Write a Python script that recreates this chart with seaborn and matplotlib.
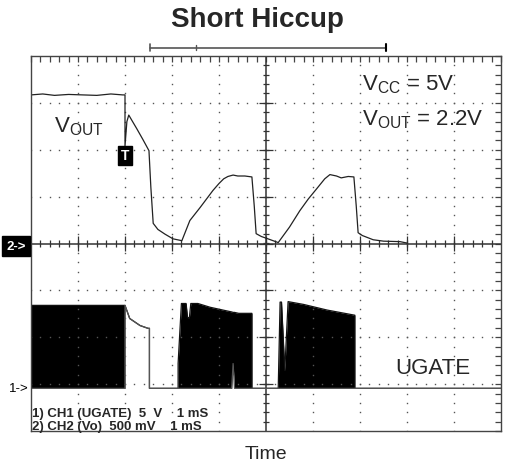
import numpy as np
import pandas as pd
import matplotlib
matplotlib.use('Agg')
import matplotlib.pyplot as plt
import matplotlib.transforms as mtransforms
import seaborn as sns

# tiempo en divisiones (1 mS/div), tension en divisiones
vout_t = [0, 0.25, 0.5, 0.8, 1.1, 1.4, 1.7, 1.95, 2.0, 2.0, 2.04, 2.08, 2.15, 2.25,
          2.38, 2.51, 2.55, 2.6, 2.7, 2.85, 3.02, 3.21, 3.38, 3.6, 3.87, 4.0, 4.1,
          4.19, 4.3, 4.4, 4.55, 4.70, 4.75, 4.79, 4.9, 5.04, 5.26, 5.5, 5.72, 5.9,
          6.08, 6.25, 6.36, 6.5, 6.6, 6.75, 6.87, 6.92, 6.96, 7.05, 7.28, 7.5, 7.85,
          8.0]
vout_v = [3.17, 3.19, 3.16, 3.18, 3.17, 3.16, 3.19, 3.17, 3.17, 2.08, 2.6, 2.74, 2.62,
          2.45, 2.22, 1.98, 1.2, 0.43, 0.3, 0.2, 0.1, 0.06, 0.49, 0.77, 1.13, 1.28,
          1.38, 1.43, 1.46, 1.44, 1.44, 1.42, 0.8, 0.21, 0.15, 0.1, 0.02, 0.35, 0.7,
          0.95, 1.17, 1.38, 1.47, 1.44, 1.40, 1.43, 1.42, 0.8, 0.23, 0.17, 0.08, 0.05,
          0.04, 0.01]

ug_t = [0, 2.0, 2.0, 2.1, 2.32, 2.49, 2.52, 2.52, 3.13, 3.13, 3.2, 3.3, 3.33, 3.37,
        3.4, 3.55, 3.81, 4.13, 4.27, 4.30, 4.33, 4.42, 4.70, 4.70, 5.26, 5.30, 5.33,
        5.40, 5.47, 5.8, 6.3, 6.89, 6.89, 10]
ug_top = [-1.32, -1.32, -1.32, -1.60, -1.75, -1.81, -1.81, -3.09, -3.09, -2.56, -1.28,
          -1.28, -1.58, -1.58, -1.28, -1.28, -1.36, -1.43, -1.46, -1.47, -1.47, -1.49,
          -1.49, -3.09, -3.09, -1.25, -1.25, -2.71, -1.24, -1.30, -1.42, -1.53, -3.09,
          -3.09]
ug_bot = [-3.09, -3.09, -1.32, -1.60, -1.75, -1.81, -1.81, -3.09, -3.09, -3.09, -3.09,
          -3.09, -3.09, -3.09, -3.09, -3.09, -3.09, -3.09, -3.09, -2.56, -3.09, -3.09,
          -3.09, -3.09, -3.09, -3.09, -3.09, -3.09, -3.09, -3.09, -3.09, -3.09, -3.09,
          -3.09]

sns.set_style('white')
plt.rcParams['font.family'] = ['Liberation Sans', 'DejaVu Sans']

fig = plt.figure(figsize=(5.06, 4.64), dpi=100)
ax = fig.add_axes([31 / 506, 32 / 464, 470 / 506, 375 / 464])
ax.set_xlim(0, 10)
ax.set_ylim(-4, 4)

# reticula punteada
gris = '#555555'
pasos_y = np.arange(-4, 4.01, 0.2)
pasos_x = np.arange(0, 10.01, 0.2)
for gx in range(1, 10):
    if gx != 5:
        ax.plot(np.full_like(pasos_y, gx), pasos_y, ls='none', marker='s', ms=1.0,
                mec='none', mfc=gris)
for gy in range(-3, 4):
    if gy != 0:
        ax.plot(pasos_x, np.full_like(pasos_x, gy), ls='none', marker='s', ms=1.0,
                mec='none', mfc=gris)

# ejes centrales con marcas
ax.axhline(0, color='#333333', lw=1.1)
ax.axvline(5, color='#333333', lw=1.1)
menores_x = np.arange(0.2, 10, 0.2)
ax.vlines(menores_x, -0.07, 0.07, color='#333333', lw=0.9)
ax.vlines(np.arange(1, 10), -0.15, 0.15, color='#333333', lw=0.9)
menores_y = np.arange(-3.8, 4, 0.2)
ax.hlines(menores_y, 4.935, 5.065, color='#333333', lw=0.9)
ax.hlines(np.arange(-3, 4), 4.85, 5.15, color='#333333', lw=0.9)

# trazas
ax.fill_between(ug_t, ug_bot, ug_top, color='black', lw=0)
sns.lineplot(x=ug_t, y=ug_top, sort=False, estimator=None, color='#111111', lw=0.9, ax=ax)
sns.lineplot(x=ug_t, y=ug_bot, sort=False, estimator=None, color='#555555', lw=0.9, ax=ax)
sns.lineplot(x=vout_t, y=vout_v, sort=False, estimator=None, color='#222222', lw=0.9, ax=ax)

# marco con marcas hacia adentro
for s in ax.spines.values():
    s.set_color('#444444')
    s.set_linewidth(1.0)
ax.set_xticks(np.arange(0, 10.01, 1))
ax.set_yticks(np.arange(-4, 4.01, 1))
ax.set_xticks(menores_x, minor=True)
ax.set_yticks(menores_y, minor=True)
ax.tick_params(which='both', direction='in', top=True, right=True, length=4.5,
               width=0.9, color='#444444', labelbottom=False, labelleft=False)

# textos
ax.text(0.5, 2.52, 'V$_{\\mathregular{OUT}}$', fontsize=16, va='center', ha='left')
ax.text(7.04, 3.41, 'V$_{\\mathregular{CC}}$ = 5V', fontsize=16, va='center', ha='left')
ax.text(7.04, 2.67, 'V$_{\\mathregular{OUT}}$ = 2.2V', fontsize=16, va='center', ha='left')
ax.text(7.74, -2.64, 'UGATE', fontsize=16, va='center', ha='left')
ax.text(0.02, -3.62, '1) CH1 (UGATE)  5  V    1 mS', fontsize=9.5, fontweight='bold',
        va='center', ha='left')
ax.text(0.02, -3.9, '2) CH2 (Vo)  500 mV    1 mS', fontsize=9.5, fontweight='bold',
        va='center', ha='left')
ax.text(2.0, 1.88, 'T', fontsize=10, fontweight='bold', color='white', va='center',
        ha='center', bbox=dict(boxstyle='square,pad=0.2', fc='black', ec='black'))

trans = mtransforms.blended_transform_factory(ax.transAxes, ax.transData)
ax.text(-0.011, -0.05, '2->', transform=trans, fontsize=9.5, fontweight='bold',
        color='white', va='center', ha='right',
        bbox=dict(boxstyle='square,pad=0.3', fc='black', ec='black'))
ax.text(-0.005, -3.09, '1->', transform=trans, fontsize=9.5, color='black',
        va='center', ha='right')

# corchete superior
ax.plot([2.53, 7.55], [4.18, 4.18], color='#555555', lw=1.2, clip_on=False)
ax.plot([2.53, 2.53], [4.11, 4.25], color='#555555', lw=1.2, clip_on=False)
ax.plot([7.55, 7.55], [4.11, 4.25], color='black', lw=1.5, clip_on=False)
ax.plot([3.51, 3.51], [4.13, 4.23], color='#555555', lw=1.0, clip_on=False)

fig.text(257 / 506, 1 - 20 / 464, 'Short Hiccup', fontsize=20, fontweight='bold',
         ha='center', va='center')
ax.set_xlabel('Time', fontsize=14, labelpad=10)
ax.set_ylabel('')

fig.savefig('out.png', dpi=100)
